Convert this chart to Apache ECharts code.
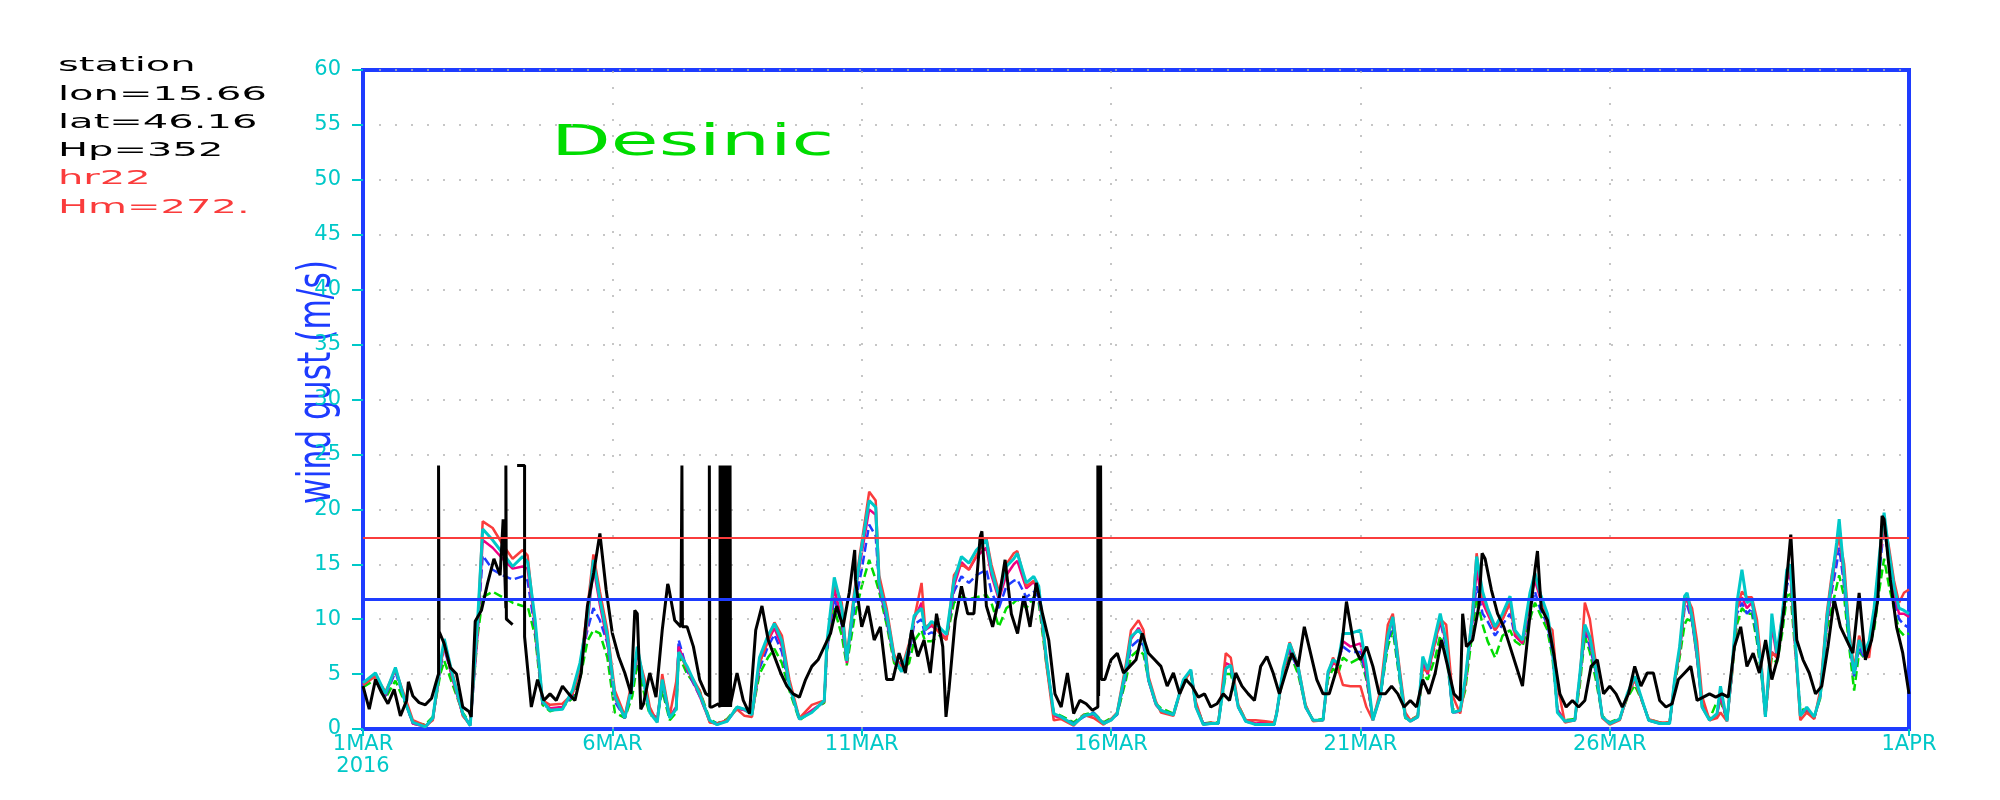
<!DOCTYPE html>
<html><head><meta charset="utf-8">
<script src="https://cdn.jsdelivr.net/npm/echarts@6/dist/echarts.min.js"></script>
<style>html,body{margin:0;padding:0;background:#fff}#c{width:2000px;height:800px}</style>
</head><body><div id="c"></div>
<script>
// ---- axis ticks ----
const xTickDays = [0, 5, 10, 15, 20, 25, 31];
const xTickLabels = ['1MAR\n2016', '6MAR', '11MAR', '16MAR', '21MAR', '26MAR', '1APR'];
const xGridDays = [5, 10, 15, 20, 25];
const yMin = 0, yMax = 60, yStep = 5;
const thresholdRed = 17.4;
const thresholdBlue = 11.8;

// ---- header texts ----
const infoLines = ['station', 'lon=15.66', 'lat=46.16', 'Hp=352', 'hr22', 'Hm=272.'];
const stationName = 'Desinic';
const yTitle = 'wind gust (m/s)';

// ---- observed gusts (black), 3-hourly from 1 MAR 00Z ----
const obsStep = 0.125;
const obsValues = [
  3.9, 1.8, 4.5, 3.3, 2.3, 3.6, 1.2, 2.6,
  3.0, 2.4, 2.2, 2.8, 4.8, 7.8, 5.6, 5.0,
  2.0, 1.6, 9.8, 10.8, 13.3, 15.5, 14.0, 11.0,
  9.5, 10.5, 8.4, 2.0, 4.5, 2.6, 3.2, 2.6,
  3.9, 3.2, 2.6, 5.1, 11.2, 14.2, 17.8, 12.7,
  8.7, 6.6, 5.1, 3.2, 10.5, 2.3, 5.1, 2.9,
  9.0, 13.0, 9.9, 9.3, 9.3, 7.5, 4.5, 3.2,
  2.0, 2.3, 2.0, 2.4, 5.1, 2.6, 1.4, 9.0,
  11.2, 8.1, 6.6, 5.1, 3.9, 3.2, 2.9, 4.5,
  5.7, 6.3, 7.5, 8.7, 11.2, 9.3, 12.4, 13.6,
  9.3, 11.2, 8.1, 9.3, 4.5, 4.5, 6.9, 5.1,
  9.0, 6.6, 8.1, 5.1, 10.5, 7.5, 3.6, 9.9,
  13.0, 10.5, 10.5, 17.5, 11.2, 9.3, 11.8, 15.4,
  10.5, 8.7, 12.1, 9.3, 13.3, 10.5, 8.1, 3.2,
  2.0, 5.1, 1.4, 2.6, 2.3, 1.7, 2.0, 4.5,
  6.3, 6.9, 5.1, 5.7, 6.3, 8.7, 6.9, 6.3,
  5.7, 3.9, 5.1, 3.2, 4.5, 3.9, 2.9, 3.2,
  2.0, 2.3, 3.2, 2.6, 5.1, 3.9, 3.2, 2.6,
  5.7, 6.6, 5.1, 3.2, 5.1, 6.9, 5.7, 9.3,
  6.9, 4.5, 3.2, 3.2, 5.1, 7.5, 11.6, 7.5,
  6.3, 7.5, 5.7, 3.2, 3.2, 3.9, 3.2, 2.0,
  2.6, 2.0, 4.5, 3.2, 5.1, 8.1, 5.7, 3.2,
  2.6, 7.5, 8.1, 11.2, 15.5, 12.7, 10.5, 9.3,
  7.5, 5.7, 3.9, 9.3, 14.5, 11.0, 9.9, 6.9,
  3.2, 2.0, 2.6, 2.0, 2.6, 5.7, 6.3, 3.2,
  3.9, 3.2, 2.0, 3.2, 5.7, 3.9, 5.1, 5.1,
  2.6, 2.0, 2.3, 4.5, 5.1, 5.7, 2.6, 2.9,
  3.2, 2.9, 3.2, 2.9, 7.5, 9.3, 5.7, 6.9,
  5.1, 8.1, 4.5, 6.6, 11.2, 17.5, 8.1, 6.3,
  5.1, 3.2, 3.9, 7.5, 11.8, 9.3, 8.1, 6.9,
  12.4, 6.3, 8.1, 11.8, 19.1, 13.6, 9.3, 6.9,
  3.2
];
// short-lived extremes of the observed record between the 3-hourly samples
const obsExtraDays =   [0.91, 2.17, 2.81, 5.45, 5.57, 6.11, 9.86, 11.69, 12.41, 19.72, 22.05, 22.44, 23.55, 28.63, 30.46];
const obsExtraValues = [4.3,  1.1,  19.1, 10.8, 1.8,  13.2, 16.3, 1.1,   18.0,  11.6,  10.5,  16.0,  16.2,  17.7,  19.4];
// spikes of the observed record (clipped at 24 m/s)
const spikeTop = 24;
const spikeStart =     [1.515, 2.865, 3.09, 6.395, 6.945, 7.16, 7.18, 7.20, 7.22, 7.24, 7.26, 7.28, 7.30, 7.32, 7.34, 7.36, 14.735, 14.79];
const spikeEnd =       [1.525, 2.875, 3.24, 6.405, 6.955, 7.17, 7.19, 7.21, 7.23, 7.25, 7.27, 7.29, 7.31, 7.33, 7.35, 7.37, 14.75, 14.805];
const spikeLowBefore = [5.0, 11.0, null, 9.3, 3.0, 2.0, 2.0, 2.0, 2.0, 2.0, 2.0, 2.0, 2.0, 2.0, 2.0, 2.0, 2.0, 3.0];
const spikeLowAfter =  [8.9, 10.0, 8.4, 9.3, 2.0, 2.0, 2.0, 2.0, 2.0, 2.0, 2.0, 2.0, 2.0, 2.0, 2.0, 2.0, 3.0, 4.5];

// ---- model forecasts (days since 1 MAR 00Z) ----
const modelDays = [
  0.0, 0.25, 0.45, 0.65, 0.85, 1.0, 1.25, 1.4, 1.55, 1.63,
  1.8, 2.0, 2.15, 2.3, 2.4, 2.6, 2.8, 3.0, 3.2, 3.3,
  3.45, 3.6, 3.75, 4.0, 4.2, 4.35, 4.5, 4.62, 4.75, 4.9,
  5.05, 5.25, 5.4, 5.5, 5.65, 5.75, 5.9, 6.0, 6.15, 6.28,
  6.33, 6.5, 6.75, 6.95, 7.1, 7.3, 7.5, 7.65, 7.8, 7.95,
  8.12, 8.25, 8.4, 8.55, 8.75, 9.0, 9.25, 9.3, 9.45, 9.6,
  9.7, 9.85, 10.0, 10.15, 10.28, 10.35, 10.5, 10.65, 10.8, 10.95,
  11.05, 11.2, 11.27, 11.4, 11.55, 11.7, 11.85, 12.0, 12.15, 12.3,
  12.5, 12.6, 12.75, 12.9, 13.05, 13.12, 13.3, 13.45, 13.55, 13.7,
  13.85, 14.0, 14.25, 14.45, 14.65, 14.85, 15.0, 15.12, 15.3, 15.4,
  15.55, 15.65, 15.75, 15.9, 16.0, 16.25, 16.45, 16.6, 16.7, 16.85,
  17.0, 17.15, 17.3, 17.4, 17.55, 17.7, 17.9, 18.1, 18.27, 18.32,
  18.45, 18.58, 18.75, 18.9, 19.05, 19.25, 19.35, 19.45, 19.55, 19.65,
  19.8, 20.0, 20.12, 20.25, 20.4, 20.55, 20.65, 20.8, 20.9, 21.0,
  21.15, 21.25, 21.35, 21.5, 21.6, 21.72, 21.85, 22.0, 22.1, 22.25,
  22.33, 22.45, 22.55, 22.7, 22.85, 23.0, 23.1, 23.25, 23.4, 23.5,
  23.6, 23.75, 23.85, 23.95, 24.1, 24.3, 24.4, 24.5, 24.6, 24.72,
  24.85, 25.0, 25.2, 25.35, 25.5, 25.65, 25.78, 26.0, 26.2, 26.3,
  26.4, 26.5, 26.55, 26.65, 26.75, 26.85, 27.0, 27.15, 27.22, 27.35,
  27.45, 27.55, 27.65, 27.75, 27.85, 27.95, 28.05, 28.12, 28.2, 28.25,
  28.35, 28.45, 28.55, 28.62, 28.72, 28.82, 28.95, 29.1, 29.22, 29.35,
  29.45, 29.55, 29.6, 29.7, 29.8, 29.9, 30.0, 30.1, 30.2, 30.3,
  30.4, 30.5, 30.6, 30.7, 30.8, 30.9, 31.0
];
const modelCyan = [
  4.2, 5.1, 3.2, 5.6, 2.4, 0.6, 0.2, 1.0, 6.0, 8.2,
  4.8, 1.4, 0.3, 10.0, 18.2, 17.2, 16.0, 14.8, 15.7, 15.2,
  10.0, 2.5, 1.7, 1.8, 3.5, 6.0, 10.0, 15.4, 11.8, 8.5,
  3.0, 1.0, 4.0, 7.5, 3.8, 1.5, 0.6, 4.5, 1.0, 1.8,
  7.0, 5.7, 3.2, 0.8, 0.4, 0.7, 2.0, 1.8, 1.3, 6.5,
  8.5, 9.6, 8.0, 4.0, 0.9, 1.5, 2.6, 7.8, 13.8, 11.0,
  6.2, 12.0, 16.6, 20.8, 20.2, 13.3, 10.5, 6.5, 5.2, 7.5,
  10.3, 11.0, 9.0, 9.8, 9.3, 8.6, 13.5, 15.7, 15.1, 16.3,
  17.2, 14.5, 12.1, 14.8, 15.5, 16.0, 13.3, 13.9, 13.0, 6.5,
  1.4, 1.1, 0.4, 1.2, 1.4, 0.5, 0.8, 1.4, 5.5, 8.4,
  9.0, 8.4, 4.5, 2.3, 1.7, 1.3, 4.5, 5.4, 2.0, 0.4,
  0.5, 0.5, 5.5, 5.8, 2.0, 0.7, 0.4, 0.4, 0.4, 1.4,
  5.5, 7.8, 5.7, 2.0, 0.8, 0.8, 5.2, 6.3, 6.0, 8.7,
  8.7, 9.0, 5.7, 0.8, 3.0, 8.5, 10.2, 4.5, 1.1, 0.7,
  1.1, 6.6, 5.4, 8.5, 10.5, 8.0, 1.5, 1.7, 4.5, 10.5,
  15.7, 12.5, 11.0, 9.3, 10.5, 12.1, 9.0, 8.1, 12.4, 14.2,
  12.4, 10.5, 7.5, 1.5, 0.7, 0.8, 5.0, 9.5, 8.4, 5.5,
  1.1, 0.5, 0.9, 3.2, 4.8, 2.6, 0.8, 0.5, 0.5, 4.5,
  7.5, 12.1, 12.4, 10.2, 6.9, 2.0, 0.8, 1.4, 3.9, 0.7,
  5.5, 11.5, 14.5, 11.5, 11.8, 9.0, 5.0, 1.1, 6.0, 10.5,
  6.9, 10.0, 14.5, 15.0, 8.0, 1.2, 2.0, 1.1, 3.0, 10.0,
  13.5, 17.0, 19.1, 14.0, 8.5, 5.0, 8.1, 6.9, 8.0, 11.0,
  15.5, 19.7, 16.0, 13.0, 11.0, 10.8, 10.5
];
const modelRed = [
  4.0, 4.8, 3.4, 5.4, 2.8, 0.8, 0.3, 0.8, 5.8, 7.5,
  5.0, 1.2, 0.4, 9.5, 18.9, 18.3, 16.8, 15.5, 16.3, 15.8,
  9.5, 2.6, 2.2, 2.3, 3.2, 5.5, 11.0, 15.9, 12.5, 9.0,
  3.5, 1.2, 4.5, 7.0, 4.5, 2.0, 0.6, 5.0, 1.2, 4.3,
  7.0, 5.5, 3.5, 0.6, 0.5, 0.8, 1.8, 1.2, 1.1, 6.0,
  8.0, 9.7, 8.5, 4.5, 1.0, 2.2, 2.6, 7.5, 13.3, 11.5,
  6.5, 12.5, 17.0, 21.6, 20.8, 14.0, 11.0, 6.8, 5.5, 7.8,
  10.0, 13.3, 9.3, 9.6, 8.8, 8.1, 14.0, 15.0, 14.5, 15.8,
  17.4, 15.0, 12.5, 15.0, 16.0, 16.2, 13.0, 13.5, 12.8, 6.0,
  0.8, 0.9, 0.3, 1.3, 1.0, 0.4, 0.9, 1.5, 6.0, 9.0,
  9.9, 9.0, 4.8, 2.5, 1.5, 1.2, 4.3, 5.2, 2.5, 0.4,
  0.6, 0.5, 6.9, 6.5, 2.2, 0.8, 0.8, 0.7, 0.6, 1.5,
  5.0, 7.9, 5.8, 2.2, 0.7, 0.8, 5.0, 6.5, 5.5, 4.0,
  3.9, 3.9, 2.0, 0.8, 3.5, 9.5, 10.5, 5.0, 1.5, 0.8,
  1.2, 5.5, 5.2, 8.0, 10.0, 9.5, 3.0, 1.4, 4.0, 11.0,
  16.0, 12.0, 10.8, 9.0, 10.0, 11.5, 8.8, 8.0, 12.0, 13.8,
  12.5, 9.5, 9.0, 4.0, 0.6, 0.8, 4.5, 11.5, 10.0, 6.0,
  1.0, 0.4, 0.8, 3.0, 4.5, 2.5, 0.9, 0.6, 0.6, 4.2,
  7.0, 11.5, 12.0, 11.0, 8.0, 3.0, 0.8, 1.0, 1.5, 0.7,
  5.0, 11.0, 12.5, 12.0, 12.0, 10.0, 5.5, 1.2, 5.0, 7.0,
  6.5, 10.0, 14.0, 15.0, 7.5, 0.8, 1.5, 0.9, 3.5, 10.5,
  14.0, 16.5, 17.5, 15.0, 9.0, 5.5, 8.5, 7.0, 6.5, 10.5,
  15.0, 19.0, 16.5, 13.5, 11.5, 12.4, 12.7
];
const modelMagenta = [
  4.1, 5.0, 3.1, 5.5, 2.5, 0.5, 0.2, 0.9, 5.9, 7.6,
  4.5, 1.3, 0.3, 9.0, 17.2, 16.5, 15.5, 14.6, 14.8, 14.6,
  9.5, 2.4, 1.9, 2.0, 3.2, 5.6, 9.5, 14.8, 11.3, 8.0,
  2.8, 1.0, 4.0, 7.0, 4.0, 1.6, 0.8, 4.3, 1.1, 2.0,
  7.5, 5.5, 3.0, 0.7, 0.4, 0.8, 1.9, 1.7, 1.4, 6.0,
  8.0, 9.2, 7.5, 4.0, 0.9, 1.7, 2.5, 7.5, 12.8, 10.0,
  6.0, 12.0, 16.0, 20.0, 19.5, 13.0, 10.2, 6.3, 5.4, 7.2,
  10.0, 11.5, 9.0, 9.4, 8.9, 8.2, 13.0, 15.2, 14.5, 15.7,
  16.5, 14.0, 11.8, 14.0, 15.0, 15.3, 12.8, 13.4, 12.5, 6.5,
  1.2, 1.0, 0.4, 1.2, 1.3, 0.5, 0.8, 1.4, 5.3, 8.2,
  9.2, 8.4, 4.4, 2.2, 1.7, 1.3, 4.4, 5.3, 2.0, 0.4,
  0.5, 0.5, 6.0, 5.8, 2.0, 0.8, 0.5, 0.6, 0.5, 1.4,
  5.2, 7.5, 5.5, 2.0, 0.8, 0.8, 5.0, 6.0, 5.8, 8.0,
  7.5, 7.8, 5.0, 0.8, 3.0, 8.5, 10.0, 4.5, 1.2, 0.7,
  1.1, 6.2, 5.0, 8.0, 10.0, 7.8, 1.5, 1.6, 4.2, 10.0,
  14.5, 11.5, 10.5, 9.0, 10.0, 11.5, 8.5, 7.8, 11.8, 13.5,
  12.0, 10.0, 7.5, 1.8, 0.7, 0.8, 4.8, 9.2, 8.0, 5.3,
  1.1, 0.5, 0.9, 3.0, 4.6, 2.5, 0.8, 0.5, 0.5, 4.4,
  7.2, 11.5, 11.8, 10.0, 6.5, 2.0, 0.8, 1.3, 3.0, 0.8,
  5.2, 11.0, 12.0, 11.0, 11.5, 9.0, 5.0, 1.1, 5.5, 9.5,
  6.5, 9.5, 13.5, 14.5, 7.5, 1.2, 1.8, 1.0, 3.0, 9.5,
  13.0, 16.5, 18.0, 13.5, 8.5, 5.0, 8.0, 6.8, 7.5, 10.5,
  15.0, 19.0, 15.5, 12.5, 10.5, 10.5, 10.2
];
const modelBlue = [
  4.0, 4.9, 3.0, 5.2, 2.4, 0.5, 0.2, 0.9, 5.5, 7.3,
  4.6, 1.3, 0.4, 9.0, 15.8, 14.5, 14.0, 13.6, 13.9, 13.5,
  9.0, 2.3, 1.8, 2.0, 3.0, 5.8, 9.0, 11.0, 9.9, 7.8,
  2.5, 1.0, 4.0, 6.8, 3.8, 1.5, 1.0, 4.0, 1.0, 2.0,
  8.1, 5.3, 3.0, 0.8, 0.5, 0.7, 1.9, 1.7, 1.4, 5.5,
  7.5, 8.6, 7.0, 3.8, 1.0, 1.6, 2.5, 7.0, 12.0, 9.5,
  6.5, 11.0, 14.5, 18.6, 17.6, 13.0, 9.8, 6.5, 5.8, 6.8,
  9.5, 10.0, 8.5, 8.8, 8.5, 8.3, 12.5, 13.9, 13.3, 14.0,
  14.5, 12.5, 11.0, 13.0, 13.5, 13.6, 12.0, 12.5, 12.0, 6.5,
  1.3, 1.1, 0.5, 1.1, 1.5, 0.5, 0.9, 1.3, 5.0, 7.5,
  8.1, 7.6, 4.5, 2.2, 1.7, 1.3, 4.4, 5.2, 2.2, 0.5,
  0.5, 0.5, 5.5, 5.5, 2.0, 0.7, 0.4, 0.4, 0.4, 1.4,
  5.3, 7.2, 5.4, 2.0, 0.8, 0.8, 5.0, 6.0, 6.2, 7.5,
  7.0, 7.0, 4.8, 0.9, 3.0, 8.0, 9.5, 4.3, 1.1, 0.7,
  1.1, 6.0, 5.0, 7.8, 9.8, 7.5, 1.5, 1.6, 4.2, 10.0,
  13.0, 10.5, 9.8, 8.5, 9.5, 10.5, 8.5, 7.8, 11.0, 12.5,
  11.0, 9.5, 7.0, 1.7, 0.7, 0.8, 4.8, 9.0, 7.5, 5.2,
  1.1, 0.5, 0.9, 3.0, 4.5, 2.6, 0.8, 0.5, 0.5, 4.3,
  7.0, 11.0, 11.3, 9.8, 6.5, 2.2, 0.8, 1.3, 3.0, 0.8,
  5.0, 10.5, 11.5, 10.5, 11.0, 8.5, 4.8, 1.1, 5.5, 7.0,
  6.5, 9.5, 13.0, 14.0, 7.5, 1.5, 1.8, 1.0, 3.0, 9.5,
  12.5, 15.0, 16.5, 13.0, 8.0, 4.8, 7.5, 6.5, 7.5, 10.0,
  14.0, 18.5, 15.0, 12.0, 10.0, 9.5, 9.2
];
const modelGreen = [
  3.8, 4.5, 2.8, 4.4, 2.3, 0.6, 0.4, 1.1, 5.0, 6.2,
  4.0, 1.5, 0.5, 8.5, 12.0, 12.5, 12.0, 11.5, 11.2, 11.2,
  8.5, 2.2, 1.6, 2.0, 2.8, 4.5, 8.0, 9.0, 8.7, 6.5,
  1.5, 1.0, 3.0, 6.0, 3.0, 1.3, 1.0, 3.5, 0.8, 1.5,
  6.7, 5.0, 3.5, 0.9, 0.5, 0.9, 2.0, 1.8, 1.4, 5.0,
  6.5, 7.3, 6.0, 3.5, 0.8, 1.6, 2.4, 7.0, 11.0, 8.5,
  5.8, 10.0, 13.0, 15.4, 13.6, 12.5, 9.5, 6.0, 5.3, 6.0,
  8.0, 9.0, 8.0, 8.0, 8.5, 8.2, 11.5, 12.0, 11.8, 12.0,
  12.2, 11.5, 9.3, 11.0, 11.5, 11.8, 11.0, 12.0, 11.5, 6.0,
  1.5, 1.2, 0.6, 1.3, 1.5, 0.6, 1.0, 1.3, 4.5, 6.6,
  7.2, 6.8, 4.5, 2.3, 1.9, 1.4, 4.3, 5.0, 2.2, 0.5,
  0.6, 0.6, 5.0, 5.0, 2.2, 0.8, 0.5, 0.4, 0.4, 1.4,
  4.8, 7.0, 5.0, 2.1, 0.8, 0.9, 4.5, 5.5, 5.0, 6.5,
  6.0, 6.5, 4.5, 1.0, 3.0, 7.5, 9.0, 4.0, 1.0, 0.8,
  1.2, 5.0, 4.5, 6.5, 8.5, 6.8, 1.8, 1.8, 3.5, 9.0,
  12.0, 9.5, 8.0, 6.5, 8.5, 9.0, 8.0, 7.5, 10.0, 11.5,
  10.5, 9.0, 6.5, 1.7, 0.8, 0.9, 4.0, 8.5, 7.0, 4.5,
  1.2, 0.6, 1.0, 2.8, 4.0, 2.5, 0.9, 0.6, 0.6, 4.0,
  6.5, 9.5, 10.0, 9.8, 6.5, 2.3, 0.9, 2.5, 2.5, 0.9,
  5.0, 9.5, 11.0, 10.5, 10.5, 8.0, 4.5, 1.2, 5.0, 6.5,
  6.0, 8.5, 12.0, 12.5, 7.0, 2.0, 1.5, 1.1, 2.8, 9.0,
  11.0, 13.0, 14.0, 12.0, 7.5, 3.5, 7.0, 6.5, 7.5, 9.0,
  12.5, 15.5, 13.0, 11.0, 9.0, 8.5, 8.7
];

// ---- sanity checks ----
[modelCyan, modelRed, modelMagenta, modelBlue, modelGreen].forEach((a, k) => {
  if (a.length !== modelDays.length) throw new Error('model ' + k + ' length ' + a.length + ' vs ' + modelDays.length);
});
if (obsValues.length !== 249) throw new Error('obs length ' + obsValues.length);

// ---- colours ----
const C = {
  frame: '#1e3cff', label: '#00c8c8', grid: '#b4b4b4',
  black: '#000000', red: '#fa3c3c', green: '#00dc00', blue: '#1e3cff', cyan: '#00c8c8', magenta: '#f00082'
};

// ---- build observed line with extremes and spikes ----
function inSpike(d) {
  for (let k = 0; k < spikeStart.length; k++) {
    if (d >= spikeStart[k] - 1e-9 && d <= spikeEnd[k] + 1e-9) return true;
  }
  return false;
}
let obsPts = [];
obsValues.forEach((v, i) => { const d = i * obsStep; if (!inSpike(d)) obsPts.push([d, v]); });
obsExtraDays.forEach((d, i) => { if (!inSpike(d)) obsPts.push([d, obsExtraValues[i]]); });
spikeStart.forEach((s, k) => {
  const e = spikeEnd[k];
  obsPts.push([s, spikeLowBefore[k]], [s, spikeTop], [e, spikeTop], [e, spikeLowAfter[k]]);
});
obsPts.sort((a, b) => a[0] - b[0]);
obsPts = obsPts.map(p => [p[0], p[1] == null ? '-' : p[1]]);

const modelData = arr => modelDays.map((d, i) => [d, arr[i]]);

function lineSeries(name, data, color, width, dashed) {
  return {
    name, type: 'line', data, showSymbol: false, symbol: 'none', connectNulls: false,
    lineStyle: { color, width, type: dashed ? [9, 4] : 'solid' },
    emphasis: { disabled: true }, silent: true, animation: false
  };
}

const chart = echarts.init(document.getElementById('c'), null, { renderer: 'canvas' });

const greenSeries = lineSeries('green', modelData(modelGreen), C.green, 2.5, true);
greenSeries.markLine = {
  silent: true, symbol: 'none', label: { show: false }, animation: false,
  lineStyle: { color: C.grid, width: 1.5, type: [2, 14] },
  data: xGridDays.map(d => ({ xAxis: d }))
};
const blackSeries = lineSeries('obs', obsPts, C.black, 3, false);
blackSeries.markLine = {
  silent: true, symbol: 'none', label: { show: false }, animation: false,
  data: [
    { yAxis: thresholdRed, lineStyle: { color: C.red, width: 2, type: 'solid' } },
    { yAxis: thresholdBlue, lineStyle: { color: C.blue, width: 3, type: 'solid' } }
  ]
};

const labelFont = 'DejaVu Sans';

const option = {
  backgroundColor: '#ffffff',
  animation: false,
  grid: { left: 363, right: 91, top: 70, bottom: 71, show: true, borderColor: C.frame, borderWidth: 4, containLabel: false },
  xAxis: {
    type: 'value', min: 0, max: 31,
    axisLine: { show: true, onZero: false, lineStyle: { color: C.frame, width: 4 } },
    axisTick: { show: true, inside: false, length: 7, customValues: xTickDays, lineStyle: { color: C.label, width: 2 } },
    axisLabel: {
      customValues: xTickDays,
      formatter: v => { const i = xTickDays.indexOf(v); return i >= 0 ? xTickLabels[i] : ''; },
      color: C.label, fontSize: 21, fontFamily: labelFont, lineHeight: 22, margin: 5
    },
    splitLine: { show: false }
  },
  yAxis: {
    type: 'value', min: yMin, max: yMax, interval: yStep,
    axisLine: { show: true, onZero: false, lineStyle: { color: C.frame, width: 4 } },
    axisTick: { show: true, inside: false, length: 11, lineStyle: { color: C.label, width: 2 } },
    axisLabel: { color: C.label, fontSize: 21, fontFamily: labelFont, margin: 22 },
    splitLine: { show: true, lineStyle: { color: C.grid, width: 1.5, type: [2, 14] } }
  },
  series: [
    greenSeries,
    lineSeries('blue', modelData(modelBlue), C.blue, 2.5, true),
    lineSeries('magenta', modelData(modelMagenta), C.magenta, 2.5, false),
    lineSeries('red', modelData(modelRed), C.red, 2.5, false),
    lineSeries('cyan', modelData(modelCyan), C.cyan, 3, false),
    blackSeries
  ],
  graphic: [
    ...infoLines.map((t, i) => ({
      type: 'text', x: 58, y: 66 + i * 28.3, scaleX: 2.0, silent: true,
      style: { text: t, fill: i < 4 ? '#000000' : C.red, font: '20px "DejaVu Sans"', textAlign: 'left', textVerticalAlign: 'middle' }
    })),
    {
      type: 'text', x: 551, y: 144, scaleX: 1.85, silent: true,
      style: { text: stationName, fill: C.green, font: '42px "DejaVu Sans"', textAlign: 'left', textVerticalAlign: 'middle' }
    },
    {
      type: 'text', x: 318, y: 382, rotation: Math.PI / 2, scaleX: 0.68, silent: true,
      style: { text: yTitle, fill: C.frame, font: '46px "DejaVu Sans"', textAlign: 'center', textVerticalAlign: 'middle' }
    }
  ]
};
chart.setOption(option);
</script>
</body></html>
